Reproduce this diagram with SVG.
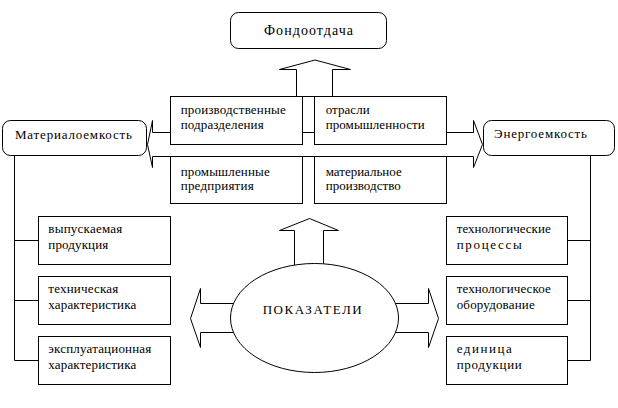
<svg xmlns="http://www.w3.org/2000/svg" width="618" height="408" viewBox="0 0 618 408">
<style>
.b{fill:#fff;stroke:#000;stroke-width:1}
.l{fill:none;stroke:#000;stroke-width:1}
text{font-family:"Liberation Serif","Times New Roman",serif;font-size:13px;fill:#000}
.big{font-size:14px}
</style>
<rect width="618" height="408" fill="#fff"/>
<g id="connectors">
<polygon class="b" points="296.5,96.5 296.5,69.5 279.5,69.5 315,60 350.5,69.5 332.5,69.5 332.5,96.5"/>
<polygon class="b" points="147.5,144.5 152.5,120.5 152.5,132.5 473.5,132.5 473.5,120.5 482.5,144.5 473.5,167.5 473.5,156.5 152.5,156.5 152.5,167.5"/>
<polygon class="b" points="294.5,272 294.5,230.5 279.5,230.5 309.5,218.5 338.5,230.5 323.5,230.5 323.5,272"/>
<polygon class="b" points="240,303.5 200.5,303.5 200.5,288.5 190.5,318.5 200.5,347.5 200.5,332.5 240,332.5"/>
<polygon class="b" points="390,303.5 428.5,303.5 428.5,288.5 438.5,318.5 428.5,347.5 428.5,332.5 390,332.5"/>
<path class="l" d="M14.5,155.5V360.5M14.5,240.5H38.5M14.5,300.5H38.5M14.5,360.5H38.5"/>
<path class="l" d="M590.5,155.5V360.5M567.5,240.5H590.5M567.5,300.5H590.5M567.5,360.5H590.5"/>
</g>
<g id="fondootdacha"><rect class="b" x="230.5" y="12.5" width="156" height="36" rx="8"/><text class="big" x="264" y="34.5" textLength="89" lengthAdjust="spacing">Фондоотдача</text></g>
<g id="materialoemkost"><rect class="b" x="2.5" y="120.5" width="144" height="35" rx="8"/><text x="15" y="139.3" textLength="117" lengthAdjust="spacing">Материалоемкость</text></g>
<g id="energoemkost"><rect class="b" x="483.5" y="120.5" width="131" height="35" rx="8"/><text x="494" y="138.3" textLength="93" lengthAdjust="spacing">Энергоемкость</text></g>
<g id="proizv-podrazd"><rect class="b" x="170.5" y="96.5" width="132" height="48"/><text x="180.7" y="114.3" textLength="105" lengthAdjust="spacing">производственные</text><text x="180.7" y="129.3" textLength="83" lengthAdjust="spacing">подразделения</text></g>
<g id="otrasli"><rect class="b" x="314.5" y="96.5" width="132" height="48"/><text x="325.7" y="114.3" textLength="44" lengthAdjust="spacing">отрасли</text><text x="325.7" y="129.3" textLength="99" lengthAdjust="spacing">промышленности</text></g>
<g id="prom-predpr"><rect class="b" x="170.5" y="156.5" width="132" height="47"/><text x="180.7" y="175.5" textLength="89" lengthAdjust="spacing">промышленные</text><text x="180.7" y="190" textLength="73" lengthAdjust="spacing">предприятия</text></g>
<g id="mater-proizv"><rect class="b" x="314.5" y="156.5" width="132" height="47"/><text x="325.7" y="175.5" textLength="76" lengthAdjust="spacing">материальное</text><text x="325.7" y="190" textLength="75" lengthAdjust="spacing">производство</text></g>
<g id="vypusk"><rect class="b" x="38.5" y="216.5" width="132" height="48"/><text x="48.3" y="232.7" textLength="74" lengthAdjust="spacing">выпускаемая</text><text x="48.3" y="249.3" textLength="60" lengthAdjust="spacing">продукция</text></g>
<g id="tehn-har"><rect class="b" x="38.5" y="276.5" width="132" height="48"/><text x="48.3" y="292.7" textLength="70" lengthAdjust="spacing">техническая</text><text x="48.3" y="309.3" textLength="88" lengthAdjust="spacing">характеристика</text></g>
<g id="expl-har"><rect class="b" x="38.5" y="336.5" width="132" height="48"/><text x="48.3" y="352.7" textLength="103" lengthAdjust="spacing">эксплуатационная</text><text x="48.3" y="369.3" textLength="88" lengthAdjust="spacing">характеристика</text></g>
<g id="tehn-proc"><rect class="b" x="446.5" y="216.5" width="121" height="48"/><text x="456.7" y="232.7" textLength="94" lengthAdjust="spacing">технологические</text><text x="456.7" y="249.3" textLength="65" lengthAdjust="spacing">процессы</text></g>
<g id="tehn-obor"><rect class="b" x="446.5" y="276.5" width="121" height="48"/><text x="456.7" y="292.7" textLength="94" lengthAdjust="spacing">технологическое</text><text x="456.7" y="309.3" textLength="78" lengthAdjust="spacing">оборудование</text></g>
<g id="edinica"><rect class="b" x="446.5" y="336.5" width="121" height="48"/><text x="456.7" y="352.7" textLength="55" lengthAdjust="spacing">единица</text><text x="456.7" y="369.3" textLength="65" lengthAdjust="spacing">продукции</text></g>
<g id="pokazateli"><ellipse class="b" cx="314.5" cy="318" rx="84" ry="54.5"/><text x="262.7" y="314.3" textLength="99" lengthAdjust="spacing">ПОКАЗАТЕЛИ</text></g>
</svg>
